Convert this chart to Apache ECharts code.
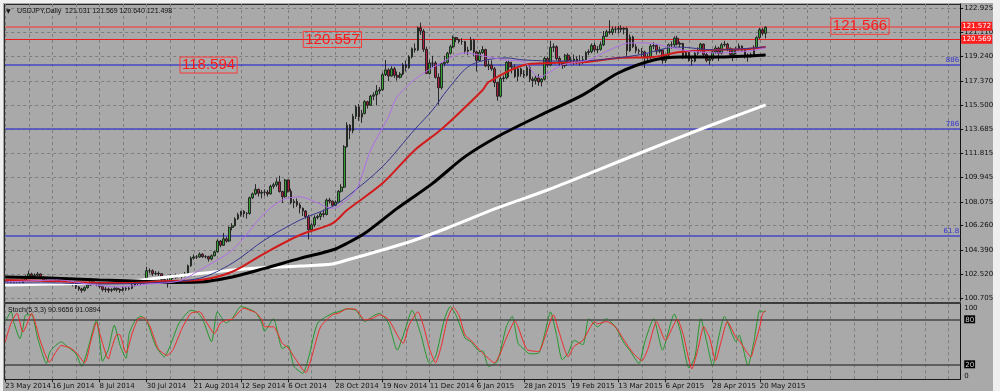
<!DOCTYPE html>
<html><head><meta charset="utf-8">
<script src="https://cdn.jsdelivr.net/npm/echarts@6/dist/echarts.min.js"></script>
<style>
html,body{margin:0;padding:0;background:#efefef;width:1000px;height:391px;overflow:hidden}
#win{position:absolute;left:3px;top:3px;width:990px;height:388px;background:#a9a9a9}
#frame{position:absolute;left:4px;top:4px;width:957px;height:376px;border-left:1px solid #2a2a2a;border-top:1px solid #2a2a2a;box-sizing:border-box}
#sep{position:absolute;left:4px;top:302px;width:957px;height:2px;background:#3c3c3c}
#chart{position:absolute;left:0;top:0;width:1000px;height:391px}
</style></head><body>
<div id="win"></div><div id="frame"></div><div id="sep"></div>
<div id="chart"></div>
<script>
// ---------- DATA ----------
const dateLabels = ['23 May 2014','16 Jun 2014','8 Jul 2014','30 Jul 2014','21 Aug 2014','12 Sep 2014','6 Oct 2014','28 Oct 2014','19 Nov 2014','11 Dec 2014','6 Jan 2015','28 Jan 2015','19 Feb 2015','13 Mar 2015','6 Apr 2015','28 Apr 2015','20 May 2015'];
const priceTicks = [100.705,102.520,104.390,106.260,108.075,109.945,111.815,113.685,115.500,117.370,119.240,121.110,122.925];

const opens = [
101.98,101.95,101.92,101.88,101.82,101.78,101.80,102.05,102.30,102.55,
102.40,102.45,102.55,102.30,102.05,101.95,101.85,101.90,102.05,102.00,
102.10,101.95,101.95,101.90,101.75,101.55,101.40,101.30,101.50,101.70,
102.10,101.85,101.75,101.60,101.35,101.40,101.30,101.35,101.45,101.35,
101.30,101.45,101.40,101.45,101.70,101.85,101.82,101.88,102.08,102.80,
102.80,102.58,102.60,102.57,102.12,102.05,102.05,102.42,102.26,102.45,
102.40,102.36,102.58,103.18,103.77,103.85,103.85,104.07,103.88,103.88,
103.70,103.95,104.25,105.08,104.75,105.25,105.08,106.12,106.25,106.78,
107.10,107.35,107.18,107.20,108.40,108.70,109.05,108.75,108.82,108.83,
108.70,109.28,109.40,109.62,108.88,108.48,109.76,108.90,108.02,108.13,
107.85,107.60,107.38,106.95,105.95,106.32,106.88,106.96,107.18,107.12,
108.23,108.14,107.82,108.07,108.90,109.22,112.32,113.98,113.55,114.65,
115.38,114.60,114.88,115.78,115.50,116.20,116.30,116.60,116.70,117.85,
118.22,117.75,118.30,117.80,117.65,117.90,118.60,118.40,119.22,119.85,
119.75,121.45,121.20,119.80,117.95,118.75,118.75,117.65,116.85,118.70,
118.80,119.50,120.00,120.70,120.55,120.40,120.40,119.65,119.75,120.50,
119.60,118.95,119.55,119.78,118.52,118.60,118.30,117.25,116.20,117.55,
117.60,118.80,118.45,118.45,117.72,118.30,117.90,117.80,118.40,117.50,
117.40,117.60,117.30,117.50,119.10,118.60,119.95,120.00,119.10,118.75,
118.55,119.35,118.95,118.95,119.05,118.80,118.85,119.00,119.55,119.62,
120.10,119.75,119.80,120.15,120.80,121.15,121.10,121.35,121.35,121.40,
121.35,121.40,119.70,120.75,120.00,119.70,119.65,119.60,119.25,119.15,
120.05,120.10,119.65,119.75,118.95,119.35,120.15,120.15,120.65,120.20,
120.25,119.25,119.55,118.95,118.90,119.50,119.70,120.20,119.40,118.95,
119.05,119.60,119.90,119.50,120.15,120.20,119.85,119.40,119.75,119.80,
120.05,119.75,119.25,119.35,119.40,119.95,120.70,121.30,121.031];

const highs = [
102.10,102.05,102.02,101.98,101.92,101.95,102.15,102.45,102.80,102.65,
102.60,102.70,102.60,102.35,102.15,102.05,102.05,102.20,102.15,102.25,
102.15,102.08,102.05,101.98,101.82,101.62,101.48,101.60,101.80,102.25,
102.15,101.92,101.85,101.65,101.55,101.50,101.45,101.58,101.55,101.45,
101.60,101.55,101.60,101.82,101.95,101.98,102.00,102.20,103.10,102.98,
102.90,102.78,102.75,102.62,102.20,102.25,102.55,102.48,102.58,102.55,
102.50,102.70,103.28,103.90,104.05,104.00,104.20,104.15,104.00,103.95,
104.05,104.35,105.20,105.15,105.70,105.40,106.20,106.45,106.90,107.25,
107.40,107.45,107.30,108.50,108.80,109.45,109.10,109.00,109.05,109.00,
109.40,109.55,109.90,110.09,108.95,109.85,109.80,109.10,108.30,108.35,
108.00,107.65,107.45,107.10,106.45,107.05,107.10,107.30,107.50,108.35,
108.40,108.20,108.20,109.00,109.45,112.45,114.20,114.05,114.85,115.50,
115.60,115.15,115.90,115.85,116.30,116.50,117.05,116.90,118.00,118.98,
118.35,118.50,118.45,118.10,118.05,118.75,118.95,119.35,119.95,120.25,
121.55,121.85,121.35,120.00,119.00,119.30,118.90,117.95,118.80,119.30,
119.60,120.15,120.85,120.75,120.60,120.65,120.45,120.00,120.75,120.60,
119.70,119.75,120.05,119.85,118.95,118.95,118.45,117.30,117.70,117.80,
118.90,118.95,118.85,118.65,118.50,118.40,118.20,118.60,118.55,117.70,
117.80,117.90,117.60,119.25,119.20,120.45,120.25,120.10,119.25,118.90,
119.45,119.50,119.20,119.40,119.25,119.35,119.25,119.65,119.80,120.25,
120.30,120.05,120.40,121.20,121.30,122.03,121.55,121.55,121.60,121.65,
121.50,121.50,120.95,120.85,120.20,119.85,119.90,119.70,119.45,120.20,
120.35,120.20,120.00,119.80,119.45,120.25,120.40,120.80,120.85,120.40,
120.30,119.75,119.65,119.20,119.60,119.95,120.30,120.25,119.55,119.20,
119.75,120.10,120.00,120.30,120.45,120.30,119.95,119.85,120.00,120.25,
120.10,119.90,119.50,119.55,120.10,120.80,121.45,121.45,121.569];

const lows = [
101.78,101.80,101.72,101.68,101.62,101.65,101.72,101.98,102.25,102.20,
102.25,102.35,102.20,101.90,101.80,101.70,101.75,101.82,101.85,101.90,
101.82,101.80,101.75,101.60,101.40,101.25,101.10,101.20,101.42,101.65,
101.75,101.60,101.45,101.20,101.15,101.10,101.15,101.25,101.20,101.10,
101.20,101.25,101.30,101.38,101.60,101.68,101.70,101.80,102.00,102.60,
102.40,102.45,102.40,101.95,101.85,101.50,101.98,102.15,102.18,102.30,
102.20,102.30,102.50,103.10,103.65,103.70,103.80,103.78,103.75,103.50,
103.60,103.90,104.20,104.60,104.70,104.95,105.00,105.90,106.20,106.70,
106.95,106.90,106.80,107.10,108.30,108.60,108.50,108.35,108.55,108.50,
108.65,109.10,109.25,108.80,108.00,108.40,108.80,107.90,107.60,107.70,
107.20,107.00,106.80,105.20,105.75,106.15,106.75,106.70,106.90,107.05,
107.95,107.70,107.75,108.00,108.80,109.15,112.25,112.90,113.35,114.45,
114.30,114.15,114.80,115.25,115.45,115.90,115.50,116.35,116.60,117.75,
117.35,117.70,117.60,117.40,117.55,117.80,118.10,118.30,119.10,119.55,
119.65,120.90,119.60,117.90,117.85,118.40,117.55,115.55,116.70,118.50,
118.70,119.40,119.90,120.35,120.25,120.15,119.45,119.35,119.70,119.30,
118.10,118.85,119.45,118.45,118.20,118.15,116.90,115.85,116.10,117.30,
117.50,117.65,117.95,117.60,117.35,117.70,117.60,117.70,117.30,116.90,
117.10,117.00,116.95,117.40,118.40,118.50,119.60,118.95,118.55,118.30,
118.40,118.70,118.65,118.60,118.65,118.55,118.65,118.90,119.35,119.50,
119.60,119.50,119.70,120.05,120.75,120.95,120.90,121.05,121.00,121.10,
120.95,119.30,119.60,119.90,119.50,119.40,119.20,118.35,118.95,119.05,
119.80,119.40,119.50,118.70,118.75,119.30,119.85,120.00,120.10,119.95,
119.05,119.10,118.85,118.55,118.80,119.35,119.60,119.20,118.80,118.60,
118.90,119.45,118.90,119.40,120.00,119.65,119.20,118.90,119.40,119.70,
119.60,119.10,118.85,119.15,119.30,119.85,120.60,120.85,120.640];

const closes = [
101.95,101.92,101.88,101.82,101.78,101.80,102.05,102.30,102.55,102.40,
102.45,102.55,102.30,102.05,101.95,101.85,101.90,102.05,102.00,102.10,
101.95,101.95,101.90,101.75,101.55,101.40,101.30,101.50,101.70,102.10,
101.85,101.75,101.60,101.35,101.40,101.30,101.35,101.45,101.35,101.30,
101.45,101.40,101.45,101.70,101.85,101.82,101.88,102.08,102.80,102.80,
102.58,102.60,102.57,102.12,102.05,102.05,102.42,102.26,102.45,102.40,
102.36,102.58,103.18,103.77,103.85,103.85,104.07,103.88,103.88,103.70,
103.95,104.25,105.08,104.75,105.25,105.08,106.12,106.25,106.78,107.10,
107.35,107.18,107.20,108.40,108.70,109.05,108.75,108.82,108.83,108.70,
109.28,109.40,109.62,108.88,108.48,109.76,108.90,108.02,108.13,107.85,
107.60,107.38,106.95,105.95,106.32,106.88,106.96,107.18,107.12,108.23,
108.14,107.82,108.07,108.90,109.22,112.32,113.98,113.55,114.65,115.38,
114.60,114.88,115.78,115.50,116.20,116.30,116.60,116.70,117.85,118.22,
117.75,118.30,117.80,117.65,117.90,118.60,118.40,119.22,119.85,119.75,
121.45,121.20,119.80,117.95,118.75,118.75,117.65,116.85,118.70,118.80,
119.50,120.00,120.70,120.55,120.40,120.40,119.65,119.75,120.50,119.60,
118.95,119.55,119.78,118.52,118.60,118.30,117.25,116.20,117.55,117.60,
118.80,118.45,118.45,117.72,118.30,117.90,117.80,118.40,117.50,117.40,
117.60,117.30,117.50,119.10,118.60,119.95,120.00,119.10,118.75,118.55,
119.35,118.95,118.95,119.05,118.80,118.85,119.00,119.55,119.62,120.10,
119.75,119.80,120.15,120.80,121.15,121.10,121.35,121.35,121.40,121.35,
121.40,119.70,120.75,120.00,119.70,119.65,119.60,119.25,119.15,120.05,
120.10,119.65,119.75,118.95,119.35,120.15,120.15,120.65,120.20,120.25,
119.25,119.55,118.95,118.90,119.50,119.70,120.20,119.40,118.95,119.05,
119.60,119.90,119.50,120.15,120.20,119.85,119.40,119.75,119.80,120.05,
119.75,119.25,119.35,119.40,119.95,120.70,121.30,121.03,121.498];

// moving averages: [bar index, price]
const maWhite = [[0,101.70],[15,101.78],[32,101.86],[44,102.05],[55,102.32],[66,102.59],[83,102.97],[100,103.16],[111,103.32],[116,103.62],[128,104.39],[139,105.16],[150,106.08],[167,107.62],[184,109.0],[201,110.53],[218,112.07],[237,113.76],[258,115.53]];
const maBlack = [[0,102.32],[15,102.24],[32,102.09],[44,102.01],[55,101.90],[66,101.93],[77,102.32],[88,102.98],[100,103.75],[111,104.39],[116,104.91],[122,105.67],[133,107.59],[145,109.51],[156,111.56],[167,113.09],[181,114.68],[196,116.30],[208,117.98],[220,118.98],[229,119.21],[241,119.21],[258,119.37]];
const maRed = [[0,102.09],[15,102.01],[32,101.86],[44,101.86],[55,102.01],[66,102.09],[77,102.72],[88,104.14],[100,105.54],[111,106.44],[116,107.46],[128,109.51],[139,112.07],[148,113.66],[162,116.68],[164,117.29],[176,118.60],[185,118.75],[197,118.83],[208,119.14],[220,119.21],[229,119.60],[241,119.75],[252,119.83],[258,119.98]];
const maNavy = [[0,101.86],[15,101.86],[32,101.78],[49,101.86],[66,102.22],[77,103.37],[88,105.16],[100,106.69],[111,107.72],[116,108.48],[128,110.79],[139,113.66],[145,115.14],[150,116.68],[158,118.60],[170,119.14],[176,118.98],[188,118.90],[201,118.98],[215,119.37],[228,119.98],[241,119.75],[258,119.98]];
const maPurple = [[0,101.93],[8,102.01],[18,102.09],[28,101.78],[38,101.55],[49,101.78],[59,102.01],[66,102.85],[77,104.39],[88,107.21],[94,108.23],[100,108.48],[105,108.10],[111,107.59],[113,107.72],[119,109.00],[124,112.07],[130,114.60],[133,116.16],[141,117.83],[153,119.37],[156,119.52],[164,119.21],[170,118.98],[176,118.83],[181,117.68],[189,118.60],[198,118.98],[205,119.75],[212,120.29],[218,120.29],[225,119.98],[232,119.67],[242,119.52],[252,119.67],[258,119.90]];

// stochastic (5,3,3): [bar index, value]
const stochK = [[0,77],[2,90],[3,75],[5,54],[6,68],[7,86],[9,86],[11,55],[14,21],[15,35],[16,41],[19,50],[21,44],[24,34],[26,17],[28,40],[31,79],[32,55],[33,24],[35,40],[37,72],[39,45],[41,28],[42,60],[44,78],[46,84],[48,78],[51,45],[54,30],[56,45],[59,75],[63,92],[65,90],[67,80],[70,50],[72,90],[75,75],[77,81],[80,97],[82,95],[85,89],[87,75],[88,64],[91,81],[94,41],[96,45],[98,17],[101,8],[103,30],[106,75],[111,88],[113,90],[116,94],[119,92],[122,77],[125,85],[127,88],[130,75],[133,39],[136,70],[138,92],[141,60],[144,21],[146,30],[149,80],[151,97],[153,85],[156,55],[158,50],[161,37],[162,38],[164,17],[167,24],[170,70],[172,84],[174,48],[176,40],[178,34],[181,35],[183,60],[185,90],[187,60],[189,26],[191,35],[193,52],[196,46],[198,81],[201,70],[204,81],[207,70],[210,48],[212,38],[215,21],[217,50],[220,81],[223,39],[227,87],[229,65],[232,15],[234,30],[236,81],[238,50],[240,18],[242,55],[244,84],[248,50],[249,59],[252,18],[254,50],[256,92],[257,90],[258,90.97]];
const stochD = [[0,50],[2,75],[4,88],[6,63],[7,70],[9,88],[10,78],[12,50],[15,23],[17,35],[19,45],[22,42],[24,36],[27,22],[29,50],[31,76],[32,62],[35,27],[36,40],[38,60],[39,59],[41,35],[43,60],[45,80],[47,82],[49,72],[52,40],[55,32],[57,40],[60,68],[63,88],[66,90],[68,78],[71,61],[73,75],[75,79],[77,80],[81,95],[83,92],[85,89],[87,80],[88,70],[91,70],[94,48],[96,42],[98,30],[102,9],[104,30],[107,70],[111,86],[113,88],[116,94],[119,93],[122,79],[125,82],[127,86],[130,80],[135,48],[137,72],[140,90],[142,70],[144,40],[146,22],[148,45],[150,80],[152,96],[154,85],[156,59],[158,52],[161,39],[162,35],[166,22],[168,35],[170,55],[173,78],[174,70],[177,40],[181,37],[183,55],[186,86],[188,62],[191,30],[193,44],[196,52],[200,77],[201,74],[204,77],[207,70],[210,52],[213,35],[216,25],[218,40],[221,77],[224,52],[228,80],[230,60],[233,14],[235,40],[237,70],[239,55],[241,25],[243,52],[245,77],[248,55],[249,52],[253,30],[254,42],[256,70],[257,88],[258,91.09]];

// horizontal objects and text notes
const redLevels = [121.572, 120.569];
const bidPrice = 121.498;
const fibLevels = [118.594, 113.685, 105.47];
const fibNames = ['886', '786', '61.8'];
const notes = [{i:111, p:120.557, t:'120.557'}, {i:69, p:118.594, t:'118.594'}, {i:290, p:121.566, t:'121.566'}];
const stochLevels = [20, 80];

// ---------- CHART ----------
const SLOTS = 325;
const slots = Array.from({length: SLOTS}, (_, i) => String(i));
const candles = opens.map((o, i) => [o, closes[i], lows[i], highs[i]]);
const AX = 'DejaVu Sans', TX = 'Liberation Sans';
const gridLine = {show: true, lineStyle: {color: '#7d7d7d', type: [3, 3], width: 1}};
const dateTick = (idx) => idx % 16 === 0 && idx / 16 < dateLabels.length;

const chart = echarts.init(document.getElementById('chart'), null, {renderer: 'canvas'});
const lineS = (data, color, width, z) => ({
  type: 'line', xAxisIndex: 0, yAxisIndex: 0, data, showSymbol: false, smooth: 0.3,
  lineStyle: {color, width}, z, silent: true
});

chart.setOption({
  animation: false,
  backgroundColor: 'transparent',
  title: [
    {text: '▼', left: 6, top: 8, padding: 0, textStyle: {fontSize: 6, color: '#111', fontFamily: AX, fontWeight: 'normal'}},
    {text: 'USDJPY,Daily  121.031 121.569 120.640 121.498', left: 17, top: 8, padding: 0, textStyle: {fontSize: 7, color: '#111', fontFamily: TX, fontWeight: 'normal'}},
    {text: 'Stoch(5,3,3) 90.9656 91.0894', left: 8, top: 307, padding: 0, textStyle: {fontSize: 7, color: '#111', fontFamily: TX, fontWeight: 'normal'}}
  ],
  grid: [
    {left: 5.2, top: 4, width: 955, height: 297},
    {left: 5.2, top: 304.3, width: 955, height: 75}
  ],
  xAxis: [
    {type: 'category', gridIndex: 0, data: slots, boundaryGap: false,
     axisLine: {show: false}, axisTick: {show: false}, axisLabel: {show: false},
     splitLine: Object.assign({interval: 7}, gridLine)},
    {type: 'category', gridIndex: 1, data: slots, boundaryGap: false,
     axisLine: {show: true, lineStyle: {color: '#1a1a1a', width: 1}},
     axisTick: {show: true, interval: dateTick, length: 3, lineStyle: {color: '#1a1a1a'}},
     axisLabel: {show: true, interval: dateTick, formatter: (v, idx) => dateLabels[idx / 16] || '',
       align: 'left', fontSize: 7, fontFamily: AX, color: '#111', margin: 3},
     splitLine: Object.assign({interval: 7}, gridLine)}
  ],
  yAxis: [
    {type: 'value', gridIndex: 0, position: 'right', min: 100.475, max: 123.28,
     axisLine: {show: true, lineStyle: {color: '#111', width: 1}},
     axisTick: {show: true, customValues: priceTicks, length: 3, lineStyle: {color: '#111'}},
     axisLabel: {customValues: priceTicks, formatter: v => Number(v).toFixed(3), fontSize: 7, fontFamily: AX, color: '#111', margin: 4},
     splitLine: gridLine},
    {type: 'value', gridIndex: 1, position: 'right', min: 0, max: 100,
     axisLine: {show: true, lineStyle: {color: '#111', width: 1}},
     axisTick: {show: false},
     axisLabel: {customValues: [0, 20, 80, 100], fontSize: 7, fontFamily: AX, color: '#111', margin: 4,
       verticalAlignMinLabel: 'bottom', verticalAlignMaxLabel: 'top',
       formatter: v => (v === 20 || v === 80) ? '{b|' + v + '}' : String(v),
       rich: {b: {backgroundColor: '#000', color: '#d0d0d0', fontSize: 7, fontFamily: AX, padding: [1, 1, 0, 1]}}},
     splitLine: {show: false}}
  ],
  series: [
    {type: 'candlestick', xAxisIndex: 0, yAxisIndex: 0, data: candles, barWidth: 2.2, z: 3,
     itemStyle: {color: '#34a234', color0: '#b01e3c', borderColor: '#1c1c1c', borderColor0: '#1c1c1c', borderWidth: 0.9},
     markLine: {silent: true, symbol: ['none', 'none'], z: 1, animation: false,
       data: [
         {yAxis: bidPrice, lineStyle: {opacity: 0},
          label: {show: true, position: 'end', distance: 1, formatter: bidPrice.toFixed(3), backgroundColor: '#000', color: '#000', fontSize: 7, fontFamily: AX, padding: [1, 1]}},
         {yAxis: redLevels[0], lineStyle: {color: '#e05858', width: 1.5, type: 'solid'},
          label: {show: true, position: 'end', distance: 1, formatter: redLevels[0].toFixed(3), backgroundColor: '#ff1f1f', color: '#fff', fontSize: 7, fontFamily: AX, padding: [1, 1]}},
         {yAxis: redLevels[1], lineStyle: {color: '#ee1c1c', width: 1, type: 'solid'},
          label: {show: true, position: 'end', distance: 1, formatter: redLevels[1].toFixed(3), backgroundColor: '#ff1f1f', color: '#fff', fontSize: 7, fontFamily: AX, padding: [1, 1]}}
       ].concat(fibLevels.map((v, k) => ({yAxis: v, lineStyle: {color: '#4747c4', width: 1.5, type: 'solid'},
          label: {show: true, position: 'insideEndTop', distance: 1, formatter: fibNames[k], color: '#3232d2', fontSize: 7, fontFamily: AX}})))
     },
     markPoint: {symbol: 'rect', symbolSize: 1, silent: true, itemStyle: {color: 'rgba(0,0,0,0)'},
       label: {show: true, position: 'inside', formatter: p => p.name, color: '#ff1a1a', fontSize: 15, fontFamily: TX,
         borderColor: '#ff3b3b', borderWidth: 1, padding: [1, 2, 0, 2]},
       data: notes.map(n => ({name: n.t, coord: [n.i, n.p]}))}
    },
    lineS(maWhite, '#ffffff', 3, 4),
    lineS(maBlack, '#000000', 3, 5),
    lineS(maRed, '#d21b1b', 2, 6),
    lineS(maNavy, '#34348e', 1, 7),
    lineS(maPurple, '#b06ee6', 1, 8),
    {type: 'line', xAxisIndex: 1, yAxisIndex: 1, data: stochK, showSymbol: false, smooth: 0.2,
     lineStyle: {color: '#22962a', width: 1}, z: 4, silent: true,
     markLine: {silent: true, symbol: ['none', 'none'], label: {show: false},
       lineStyle: {color: '#474747', width: 1.5, type: 'solid'},
       data: stochLevels.map(v => ({yAxis: v}))}},
    {type: 'line', xAxisIndex: 1, yAxisIndex: 1, data: stochD, showSymbol: false, smooth: 0.2,
     lineStyle: {color: '#f02828', width: 1}, z: 5, silent: true}
  ]
});
</script></body></html>
